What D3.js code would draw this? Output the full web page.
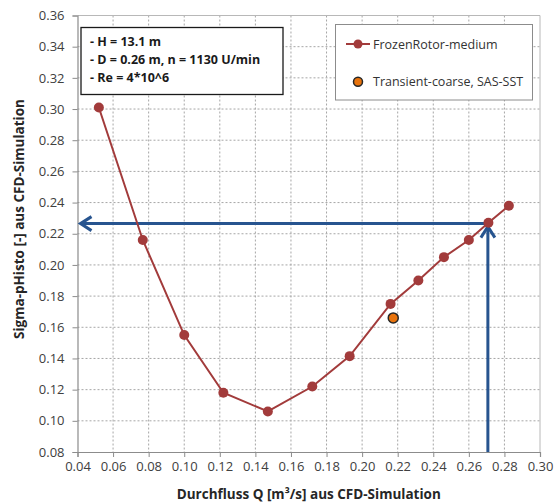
<!DOCTYPE html>
<html><head><meta charset="utf-8">
<script src="https://cdn.jsdelivr.net/npm/d3@7"></script>
<style>
html,body{margin:0;padding:0;background:#fff;}
text{font-family:"Open Sans",sans-serif;}
</style></head>
<body><svg id="c" width="556" height="504"></svg>
<script>
// ---- data ----
const flowQ = [0.052, 0.0767, 0.100, 0.122, 0.147, 0.172, 0.193, 0.216, 0.2316, 0.246, 0.260, 0.271, 0.2825];
const sigmaFrozen = [0.301, 0.216, 0.155, 0.118, 0.106, 0.122, 0.1415, 0.175, 0.190, 0.205, 0.216, 0.227, 0.238];
const transientQ = [0.2175];
const transientSigma = [0.166];
const arrowQ = 0.2707;
const arrowSigma = 0.2265;
const xTicks = [0.04,0.06,0.08,0.10,0.12,0.14,0.16,0.18,0.20,0.22,0.24,0.26,0.28,0.30];
const yTicks = [0.08,0.10,0.12,0.14,0.16,0.18,0.20,0.22,0.24,0.26,0.28,0.30,0.32,0.34,0.36];
const infoLines = ["- H = 13.1 m", "- D = 0.26 m, n = 1130 U/min", "- Re = 4*10^6"];
const legendLabels = ["FrozenRotor-medium", "Transient-coarse, SAS-SST"];
const xTitle = "Durchfluss Q [m³/s] aus CFD-Simulation";
const yTitle = "Sigma-pHisto [-] aus CFD-Simulation";

const svg = d3.select("#c");
const L = 77.5, R = 540, T = 15.5, B = 452;
const x = d3.scaleLinear().domain([0.04, 0.30]).range([L, R]);
const y = d3.scaleLinear().domain([0.08, 0.36]).range([B, T]);
const red = "#a23b3b", blue = "#27548f";

// grid
const g = svg.append("g");
g.selectAll(".vg").data(xTicks.slice(1, -1)).join("line")
  .attr("x1", d => x(d)).attr("x2", d => x(d)).attr("y1", T).attr("y2", B)
  .attr("stroke", "#a6a6a6").attr("stroke-dasharray", "2,2").attr("stroke-width", 1);
g.selectAll(".hg").data(yTicks.slice(1, -1)).join("line")
  .attr("y1", d => y(d)).attr("y2", d => y(d)).attr("x1", L).attr("x2", R)
  .attr("stroke", "#a6a6a6").attr("stroke-dasharray", "2,2").attr("stroke-width", 1);
// border top/right
svg.append("line").attr("x1", L).attr("x2", R).attr("y1", T).attr("y2", T).attr("stroke", "#b8b8b8");
svg.append("line").attr("x1", R).attr("x2", R).attr("y1", T).attr("y2", B).attr("stroke", "#b8b8b8");

// axes
const xAxis = d3.axisBottom(x).tickValues(xTicks).tickFormat(d3.format(".2f")).tickSize(5).tickPadding(5);
const yAxis = d3.axisLeft(y).tickValues(yTicks).tickFormat(d3.format(".2f")).tickSize(5).tickPadding(8);
const gx = svg.append("g").attr("transform", `translate(0,${B})`).call(xAxis);
const gy = svg.append("g").attr("transform", `translate(${L},0)`).call(yAxis);
[gx, gy].forEach(a => {
  a.select(".domain").attr("stroke", "#8c8c8c").attr("stroke-width", 1.2);
  a.selectAll(".tick line").attr("stroke", "#8c8c8c");
  a.selectAll(".tick text").attr("fill", "#404040").style("font-size", "13px").style("font-family", "Open Sans");
});

// info box
svg.append("rect").attr("x", 81).attr("y", 27.5).attr("width", 202).attr("height", 67)
  .attr("fill", "#fff").attr("stroke", "#1a1a1a").attr("stroke-width", 1.3);
svg.selectAll(".info").data(infoLines).join("text")
  .attr("x", 90).attr("y", (d, i) => 46 + i * 18)
  .attr("font-size", "12.5px").attr("font-weight", "bold").attr("fill", "#1a1a1a").text(d => d);

// arrows
const ax = x(arrowQ), ay = y(arrowSigma);
svg.append("line").attr("x1", ax).attr("x2", x(0.04) + 3).attr("y1", ay).attr("y2", ay)
  .attr("stroke", blue).attr("stroke-width", 3);
svg.append("path").attr("d", `M${x(0.04) + 14},${ay - 7} L${x(0.04) + 3},${ay} L${x(0.04) + 14},${ay + 7}`)
  .attr("fill", "none").attr("stroke", blue).attr("stroke-width", 3);
const vTop = ay + 3;
svg.append("line").attr("x1", ax).attr("x2", ax).attr("y1", B).attr("y2", vTop)
  .attr("stroke", blue).attr("stroke-width", 3);
svg.append("path").attr("d", `M${ax - 7},${vTop + 11} L${ax},${vTop} L${ax + 7},${vTop + 11}`)
  .attr("fill", "none").attr("stroke", blue).attr("stroke-width", 3);

// series
const pts = flowQ.map((q, i) => [q, sigmaFrozen[i]]);
svg.append("path").datum(pts).attr("d", d3.line().x(d => x(d[0])).y(d => y(d[1])))
  .attr("fill", "none").attr("stroke", red).attr("stroke-width", 2);
svg.selectAll(".pt").data(pts).join("circle")
  .attr("cx", d => x(d[0])).attr("cy", d => y(d[1])).attr("r", 5).attr("fill", red);
svg.selectAll(".tp").data(transientQ.map((q, i) => [q, transientSigma[i]])).join("circle")
  .attr("cx", d => x(d[0])).attr("cy", d => y(d[1])).attr("r", 5)
  .attr("fill", "#e8730c").attr("stroke", "#262626").attr("stroke-width", 1.5);

// legend
svg.append("rect").attr("x", 335.5).attr("y", 24.5).attr("width", 197).attr("height", 75.5)
  .attr("fill", "#fff").attr("stroke", "#8c8c8c").attr("stroke-width", 1);
svg.append("line").attr("x1", 346).attr("x2", 370).attr("y1", 44).attr("y2", 44).attr("stroke", red).attr("stroke-width", 2);
svg.append("circle").attr("cx", 358).attr("cy", 44).attr("r", 4.5).attr("fill", red);
svg.append("circle").attr("cx", 358).attr("cy", 81.7).attr("r", 4.5).attr("fill", "#e8730c").attr("stroke", "#262626").attr("stroke-width", 1.5);
svg.selectAll(".lg").data(legendLabels).join("text")
  .attr("x", 373).attr("y", (d, i) => i === 0 ? 48.5 : 86)
  .attr("font-size", "12.5px").attr("fill", "#333").text(d => d);

// titles
svg.append("text").attr("x", (L + R) / 2).attr("y", 499).attr("text-anchor", "middle")
  .attr("font-size", "13.5px").attr("font-weight", "bold").attr("fill", "#262626").text(xTitle);
svg.append("text").attr("transform", `translate(24,219) rotate(-90)`).attr("text-anchor", "middle")
  .attr("font-size", "13.5px").attr("font-weight", "bold").attr("fill", "#262626").text(yTitle);
</script></body></html>
